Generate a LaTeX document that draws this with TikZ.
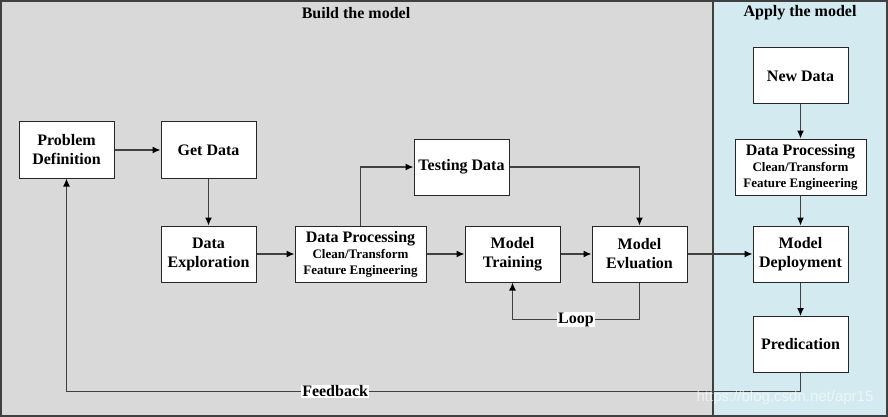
\documentclass[tikz,border=0pt]{standalone}
\usepackage{fontspec}
\setmainfont{Liberation Serif}
\setsansfont{Liberation Sans}
\usetikzlibrary{arrows.meta}
\definecolor{buildgray}{RGB}{217,217,217}
\definecolor{applyblue}{RGB}{210,234,240}
\definecolor{linegray}{RGB}{64,64,64}
\newcommand{\subtxt}[1]{{\fontsize{13}{15}\selectfont #1}}

\begin{document}
\begin{tikzpicture}[x=1pt,y=-1pt,
    stage/.style={rectangle, draw=black!85, line width=1pt, fill=white, minimum width=95pt, minimum height=56pt, inner sep=1pt, align=center, font=\fontsize{16}{19}\selectfont\bfseries},
    widestage/.style={stage, minimum width=131pt},
    flow/.style={draw=linegray, line width=1.2pt, -{Latex[length=8pt,width=7pt,color=black]}},
    tag/.style={fill=white, inner sep=1pt, font=\fontsize{16}{19}\selectfont\bfseries}]
    \useasboundingbox (0,0) rectangle (888,417);
    % panels
    \fill[buildgray] (0,0) rectangle (713,417);
    \fill[applyblue] (713,0) rectangle (888,417);
    \draw[linegray, line width=1.6pt] (1,1) rectangle (887,416);
    \draw[linegray, line width=1.2pt] (713,1) -- (713,416);
    \node[font=\fontsize{16}{19}\selectfont\bfseries] (build) at (356,13) {Build the model};
    \node[font=\fontsize{16}{19}\selectfont\bfseries] (apply) at (800,13) {Apply the model};
    % build stages
    \node[stage] (pd) at (66.5,150) {Problem\\Definition};
    \node[stage] (gd) at (208.5,150) {Get Data};
    \node[stage] (td) at (461.5,167) {Testing Data};
    \node[stage] (de) at (208.5,254) {Data\\Exploration};
    \node[widestage] (dp) at (360.5,254) {Data Processing\\[-3pt]\subtxt{Clean/Transform}\\[-3pt]\subtxt{Feature Engineering}};
    \node[stage] (mt) at (512.5,254) {Model\\Training};
    \node[stage] (me) at (639.5,254) {Model\\Evluation};
    % apply stages
    \node[stage] (nd) at (800.5,76) {New Data};
    \node[widestage] (dpa) at (800.5,167) {Data Processing\\[-3pt]\subtxt{Clean/Transform}\\[-3pt]\subtxt{Feature Engineering}};
    \node[stage] (md) at (800.5,254) {Model\\Deployment};
    \node[stage] (pr) at (800.5,344.5) {Predication};
    % connectors
    \draw[flow] (pd) -- (gd);
    \draw[flow] (gd) -- (de);
    \draw[flow] (de) -- (dp);
    \draw[flow] (dp.north) |- (td.west);
    \draw[flow] (td.east) -| (me.north);
    \draw[flow] (dp) -- (mt);
    \draw[flow] (mt) -- (me);
    \draw[flow] (me) -- (md);
    \draw[flow] (me.south) -- ++(0,37) -| node[tag, pos=0.25] {Loop} (mt.south);
    \draw[flow] (nd) -- (dpa);
    \draw[flow] (dpa) -- (md);
    \draw[flow] (md) -- (pr);
    \draw[flow] (pr.south) -- ++(0,18.5) -| node[tag, pos=0.317] {Feedback} (pd.south);
    % watermark
    \node[text=white, opacity=0.6, font=\sffamily\fontsize{15}{18}\selectfont] (mark) at (785,398) {https://blog.csdn.net/apr15};
\end{tikzpicture}
\end{document}
